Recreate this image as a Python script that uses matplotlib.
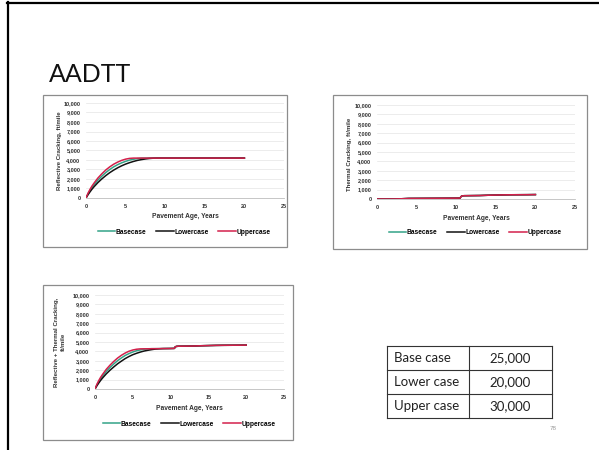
import matplotlib
matplotlib.use("Agg")
import matplotlib.pyplot as plt
from matplotlib.patches import Rectangle
from matplotlib.lines import Line2D

W, H = 599, 450

# ---- data -------------------------------------------------------------
case_names = ["Basecase", "Lowercase", "Uppercase"]
case_colors = ["#33a387", "#111111", "#d3204b"]

refl_years = [0, 0.25, 0.5, 0.75, 1, 1.5, 2, 2.5, 3, 3.5, 4, 4.5, 5, 5.5, 6,
              6.5, 7, 7.5, 8, 8.5, 9, 10, 12, 14, 16, 18, 20]
refl_base = [0, 420, 780, 1100, 1380, 1880, 2300, 2680, 3000, 3280, 3510, 3700,
             3860, 3990, 4080, 4150, 4190, 4200, 4200, 4200, 4200, 4200, 4200,
             4200, 4200, 4200, 4200]
refl_lower = [0, 340, 640, 920, 1170, 1620, 2010, 2360, 2670, 2940, 3180, 3390,
              3570, 3720, 3850, 3960, 4040, 4110, 4160, 4190, 4200, 4200, 4200,
              4200, 4200, 4200, 4200]
refl_upper = [0, 500, 900, 1250, 1550, 2100, 2550, 2950, 3280, 3560, 3780, 3960,
              4090, 4170, 4200, 4200, 4200, 4200, 4200, 4200, 4200, 4200, 4200,
              4200, 4200, 4200, 4200]

therm_years = [0, 2, 3, 4, 6, 8, 10, 10.5, 10.6, 10.75, 11, 12, 13, 14, 15, 16,
               17, 18, 19, 20]
therm_base = [0, 0, 20, 60, 70, 80, 90, 100, 250, 330, 350, 360, 370, 400, 420,
              440, 450, 455, 460, 470]
therm_lower = [0, 0, 20, 60, 70, 80, 90, 100, 250, 330, 350, 360, 370, 400, 420,
               440, 450, 455, 460, 470]
therm_upper = [0, 0, 20, 60, 70, 80, 90, 100, 250, 330, 350, 360, 370, 400, 420,
               440, 450, 455, 460, 470]

total_years = [0, 0.25, 0.5, 0.75, 1, 1.5, 2, 2.5, 3, 3.5, 4, 4.5, 5, 5.5, 6,
               6.5, 7, 7.5, 8, 8.5, 9, 10, 10.5, 10.6, 10.75, 11, 12, 13, 14,
               15, 16, 17, 18, 19, 20]
total_base = [0, 420, 780, 1100, 1380, 1880, 2300, 2680, 3020, 3310, 3570, 3770,
              3940, 4070, 4160, 4230, 4270, 4290, 4290, 4295, 4300, 4310, 4320,
              4470, 4530, 4550, 4560, 4570, 4600, 4620, 4640, 4650, 4655, 4660,
              4670]
total_lower = [0, 340, 640, 920, 1170, 1620, 2010, 2360, 2690, 2970, 3240, 3460,
               3650, 3800, 3930, 4040, 4120, 4190, 4250, 4280, 4300, 4310, 4320,
               4470, 4530, 4550, 4560, 4570, 4600, 4620, 4640, 4650, 4655, 4660,
               4670]
total_upper = [0, 500, 900, 1250, 1550, 2100, 2550, 2950, 3300, 3590, 3830, 4020,
               4150, 4230, 4270, 4275, 4280, 4285, 4290, 4295, 4300, 4310, 4320,
               4470, 4530, 4550, 4560, 4570, 4600, 4620, 4640, 4650, 4655, 4660,
               4670]

table_rows = ["Base case", "Lower case", "Upper case"]
table_vals = ["25,000", "20,000", "30,000"]

y_ticks = list(range(0, 10001, 1000))
x_ticks = [0, 5, 10, 15, 20, 25]

# ---- figure -----------------------------------------------------------
plt.rcParams["font.family"] = ["Liberation Sans", "DejaVu Sans"]
fig = plt.figure(figsize=(W / 100, H / 100), dpi=100)
fig.patch.set_facecolor("white")


def fx(px):
    return px / W


def fy(py):
    return 1 - py / H


# slide frame (left and top edges)
fig.add_artist(Line2D([fx(8), fx(8)], [fy(2), fy(450)], color="black", lw=1.6))
fig.add_artist(Line2D([fx(7), fx(599)], [fy(2.5), fy(2.5)], color="black", lw=1.6))

fig.text(fx(49), fy(82), "AADTT", fontsize=18, family=["Lato", "DejaVu Sans"],
         ha="left", va="baseline", color="#111111")


def chart_box(x0, y0, x1, y1):
    fig.add_artist(Rectangle((fx(x0), fy(y1)), fx(x1) - fx(x0), fy(y0) - fy(y1),
                             transform=fig.transFigure, fill=False,
                             edgecolor="#8c8c8c", lw=0.9))


def chart(px0, px1, py0, py10k, years, series, ylabel, ylab_x, ylab_y,
          xlab_y, leg_x, leg_y):
    ax = fig.add_axes([fx(px0), fy(py0), fx(px1) - fx(px0), fy(py10k) - fy(py0)])
    for vals, name, col in zip(series, case_names, case_colors):
        ax.plot(years, vals, color=col, lw=1.1, label=name)
    ax.set_xlim(0, 25)
    ax.set_ylim(0, 10000)
    ax.set_xticks(x_ticks)
    ax.set_yticks(y_ticks)
    ax.set_yticklabels([f"{v:,}" for v in y_ticks])
    ax.tick_params(length=0, labelsize=4.0, pad=4, colors="#333333")
    for lab in ax.get_xticklabels() + ax.get_yticklabels():
        lab.set_fontweight("bold")
    ax.grid(axis="y", color="#e4e4e4", lw=0.5)
    ax.set_axisbelow(True)
    for s in ("top", "right", "left"):
        ax.spines[s].set_visible(False)
    ax.spines["bottom"].set_color("#bdbdbd")
    ax.spines["bottom"].set_linewidth(0.6)
    fig.text(fx(ylab_x), fy(ylab_y), ylabel, rotation=90, ha="center",
             va="center", fontsize=4.4, fontweight="bold", color="#333333",
             linespacing=1.3)
    fig.text(fx((px0 + px1) / 2), fy(xlab_y), "Pavement Age, Years",
             ha="center", va="center", fontsize=4.8, fontweight="bold",
             color="#333333")
    handles, labels = ax.get_legend_handles_labels()
    fig.legend(handles, labels, loc="center", ncol=3, frameon=False,
               bbox_to_anchor=(fx(leg_x), fy(leg_y)),
               handlelength=2.6, handletextpad=0.1, columnspacing=1.5,
               prop={"weight": "bold", "size": 4.8})
    return ax


# Reflective cracking
chart_box(43, 95, 287, 247)
chart(86, 284, 198, 103, refl_years, [refl_base, refl_lower, refl_upper],
      "Reflective Cracking, ft/mile", 59, 151, 217, 184, 232)

# Thermal cracking
chart_box(333, 95, 587, 249)
chart(377, 575, 199, 105, therm_years, [therm_base, therm_lower, therm_upper],
      "Thermal Cracking, ft/mile", 349, 154, 218, 475, 233)

# Reflective + thermal cracking
chart_box(43, 285, 293, 440)
chart(95, 284, 389, 295, total_years, [total_base, total_lower, total_upper],
      "Reflective + Thermal Cracking,\nft/mile", 60, 342, 408, 189, 424)

# AADTT table
tx0, tx1, tx2 = 387, 469, 552
row_edges = [346, 370, 394, 418]
for yy in row_edges:
    fig.add_artist(Line2D([fx(tx0), fx(tx2)], [fy(yy), fy(yy)], color="#333333", lw=0.8))
for xx in (tx0, tx1, tx2):
    fig.add_artist(Line2D([fx(xx), fx(xx)], [fy(row_edges[0]), fy(row_edges[-1])],
                          color="#333333", lw=0.8))
for i, (name, val) in enumerate(zip(table_rows, table_vals)):
    yc = (row_edges[i] + row_edges[i + 1]) / 2
    fig.text(fx(tx0 + 7), fy(yc), name, ha="left", va="center", fontsize=9.5,
             family=["Lato", "DejaVu Sans"], color="#222222")
    fig.text(fx((tx1 + tx2) / 2), fy(yc), val, ha="center", va="center",
             fontsize=9.5, family=["Lato", "DejaVu Sans"], color="#222222")

fig.text(fx(553), fy(429), "78", ha="center", va="center", fontsize=4.5,
         color="#9a9a9a")

fig.savefig("out.png", dpi=100, facecolor="white")
